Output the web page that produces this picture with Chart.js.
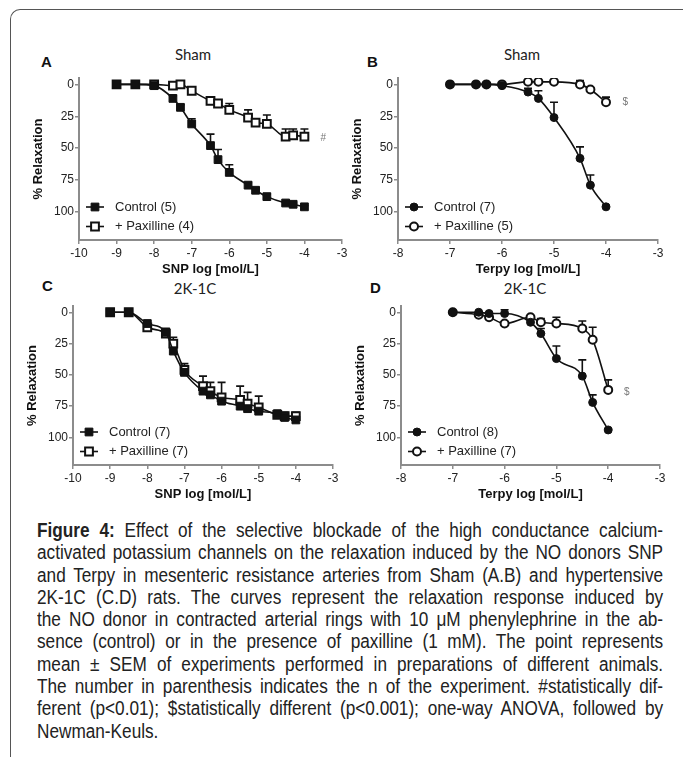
<!DOCTYPE html>
<html><head><meta charset="utf-8">
<script src="https://cdn.jsdelivr.net/npm/chart.js@4.4.1/dist/chart.umd.min.js"></script>
<style>
body{margin:0;width:683px;height:760px;background:#fff;position:relative;overflow:hidden;font-family:"Liberation Sans",Arial,sans-serif;}
.frame{position:absolute;left:10px;top:9px;width:700px;height:747px;border-top:1.5px solid #555;border-left:1.5px solid #555;border-top-left-radius:10px;}
canvas{position:absolute;}
.lbl{position:absolute;font-weight:bold;font-size:15px;color:#111;line-height:15px;}
.ttl{position:absolute;font-family:Lato,"Open Sans",sans-serif;font-size:15px;color:#222;transform:translateX(-50%);line-height:15px;white-space:nowrap;}
.cap{position:absolute;left:37px;width:626px;top:519px;font-family:"Liberation Sans",Arial,sans-serif;font-size:20px;color:#222;}
.cap div{width:728px;height:22.3px;line-height:22.3px;text-align:justify;text-align-last:justify;transform:scaleX(0.86);transform-origin:0 0;white-space:nowrap;}
.cap div.last{text-align-last:left;}
</style>
</head><body>
<div class="frame"></div>
<div class="lbl" style="left:41px;top:54px">A</div>
<div class="ttl" style="left:193px;top:47px">Sham</div>
<div class="lbl" style="left:367px;top:54px">B</div>
<div class="ttl" style="left:522px;top:47px">Sham</div>
<div class="lbl" style="left:42px;top:278px">C</div>
<div class="ttl" style="left:195px;top:281px">2K-1C</div>
<div class="lbl" style="left:370px;top:280px">D</div>
<div class="ttl" style="left:525px;top:281px">2K-1C</div>
<canvas id="cA"></canvas><canvas id="cB"></canvas><canvas id="cC"></canvas><canvas id="cD"></canvas>
<div class="cap">
<div><b>Figure 4:</b> Effect of the selective blockade of the high conductance calcium-</div>
<div>activated potassium channels on the relaxation induced by the NO donors SNP</div>
<div>and Terpy in mesenteric resistance arteries from Sham (A.B) and hypertensive</div>
<div>2K-1C (C.D) rats. The curves represent the relaxation response induced by</div>
<div>the NO donor in contracted arterial rings with 10 μM phenylephrine in the ab-</div>
<div>sence (control) or in the presence of paxilline (1 mM). The point represents</div>
<div>mean ± SEM of experiments performed in preparations of different animals.</div>
<div>The number in parenthesis indicates the n of the experiment. #statistically dif-</div>
<div>ferent (p&lt;0.01); $statistically different (p&lt;0.001); one-way ANOVA, followed by</div>
<div class="last">Newman-Keuls.</div>
</div>
<script>
// ---- data ----
const xSNP   = [-9,-8.5,-8,-7.5,-7.3,-7,-6.5,-6.3,-6,-5.5,-5.3,-5,-4.5,-4.3,-4];
const xTerpy = [-7,-6.5,-6.3,-6,-5.5,-5.3,-5,-4.5,-4.3,-4];
const xTicksSNP   = [-10,-9,-8,-7,-6,-5,-4,-3];
const xTicksTerpy = [-8,-7,-6,-5,-4,-3];
const yTicks = [0,25,50,75,100];

const ctrlA     = [0,0,1,11,18,31,48,59,69,79,83,88,93,94,96];
const ctrlA_sem = [0,0,0,2,2,4,9,8,6,2,2,2,1,1,1];
const paxA      = [0,0,0,1,0,5,13,15,20,26,30,31,41,40,41];
const paxA_sem  = [0,0,0,0,0,0,2,2,5,6,3,7,6,5,6];

const ctrlB     = [0,0,0,1,6,11,26,58,79,96];
const ctrlB_sem = [0,0,0,0,3,6,12,9,8,1];
const paxB      = [0,0,0,0,-2,-2,-2,0,4,14];
const paxB_sem  = [0,0,0,0,0,0,0,3,0,4];

const ctrlC     = [0,0,9,16,31,48,63,66,71,75,77,79,81,84,86];
const ctrlC_sem = [0,0,2,3,4,5,5,5,5,4,4,4,2,2,3];
const paxC      = [0,0,12,17,25,46,59,63,68,70,73,76,82,83,83];
const paxC_sem  = [0,0,3,4,5,5,8,7,12,11,9,9,3,3,3];

const ctrlD     = [0,0,1,1,8,17,37,51,72,94];
const ctrlD_sem = [0,0,0,3,3,4,10,13,6,1];
const paxD      = [0,2,4,9,4,8,9,13,22,62];
const paxD_sem  = [0,0,0,0,0,3,5,6,10,8];

const legA = ['Control (5)','+ Paxilline (4)'];
const legB = ['Control (7)','+ Paxilline (5)'];
const legC = ['Control (7)','+ Paxilline (7)'];
const legD = ['Control (8)','+ Paxilline (7)'];

// ---- plugins ----
const errorBars = {
  id:'errorBars',
  beforeDatasetsDraw(chart){
    const ctx=chart.ctx, xs=chart.scales.x, ys=chart.scales.y;
    ctx.save();
    ctx.strokeStyle='#111'; ctx.lineWidth=1.6;
    chart.data.datasets.forEach(ds=>{
      ds.data.forEach((p,i)=>{
        const s=ds.sem[i]; if(!s) return;
        const x=xs.getPixelForValue(p.x), y0=ys.getPixelForValue(p.y), y1=ys.getPixelForValue(p.y-s);
        ctx.beginPath(); ctx.moveTo(x,y0); ctx.lineTo(x,y1);
        ctx.moveTo(x-4,y1); ctx.lineTo(x+4,y1); ctx.stroke();
      });
    });
    ctx.restore();
  }
};
const innerLegend = {
  id:'innerLegend',
  afterDraw(chart){
    const ctx=chart.ctx, a=chart.chartArea;
    ctx.save();
    chart.data.datasets.forEach((ds,i)=>{
      const y=a.bottom-33+i*19.5, x=a.left+16;
      ctx.strokeStyle='#111'; ctx.lineWidth=1.6;
      ctx.beginPath(); ctx.moveTo(x-9,y); ctx.lineTo(x+9,y); ctx.stroke();
      ctx.fillStyle=ds.pointBackgroundColor; ctx.strokeStyle=ds.pointBorderColor; ctx.lineWidth=ds.pointBorderWidth;
      Chart.helpers.drawPoint(ctx,{pointStyle:ds.pointStyle,radius:ds.pointRadius,borderWidth:ds.pointBorderWidth},x,y);
      ctx.fillStyle='#222'; ctx.font='13px "Liberation Sans", Arial, sans-serif';
      ctx.textBaseline='middle'; ctx.textAlign='left';
      ctx.fillText(ds.label,a.left+36,y);
    });
    ctx.restore();
  }
};
const sigMark = {
  id:'sigMark',
  afterDraw(chart){
    const m=chart.options.plugins.sigMark; if(!m||!m.text) return;
    const ctx=chart.ctx;
    ctx.save(); ctx.fillStyle='#777'; ctx.font='10px "Liberation Sans", Arial, sans-serif';
    ctx.textAlign='center'; ctx.textBaseline='middle';
    ctx.fillText(m.text, chart.scales.x.getPixelForValue(m.x), chart.scales.y.getPixelForValue(m.y));
    ctx.restore();
  }
};

function makeDs(label, xs, ys, sem, style, filled, r){
  return {
    label, sem,
    data: xs.map((x,i)=>({x, y: ys[i]})),
    borderColor:'#111', borderWidth:1.6,
    pointStyle:style, pointRadius:r, pointHoverRadius:r,
    pointBackgroundColor: filled ? '#111' : '#fff',
    pointBorderColor:'#111', pointBorderWidth: filled ? 1 : 2,
    cubicInterpolationMode:'monotone', fill:false
  };
}

function panel(id, L, T, R, B, xTicks, xTitle, datasets, mark){
  const cv=document.getElementById(id);
  const cx=L-59, cy=T-48, w=R-L+69, h=B-T+93;
  cv.width=w; cv.height=h;
  cv.style.left=cx+'px'; cv.style.top=cy+'px';
  const axisGrid={display:true, drawOnChartArea:false, drawTicks:true, tickLength:4, color:'#8c8c8c', lineWidth:1.5};
  const axisBorder={display:true, color:'#8c8c8c', width:2};
  new Chart(cv,{
    type:'line',
    data:{datasets},
    options:{
      responsive:false, animation:false, events:[],
      layout:{padding:{top:48,left:0,right:10,bottom:5}},
      plugins:{legend:{display:false}, tooltip:{enabled:false}, sigMark:mark},
      scales:{
        x:{type:'linear', min:xTicks[0], max:xTicks[xTicks.length-1],
           afterBuildTicks:s=>{s.ticks=xTicks.map(v=>({value:v}));},
           afterFit:s=>{s.height=40;},
           grid:axisGrid, border:axisBorder,
           ticks:{color:'#222', font:{family:'"Liberation Sans", Arial, sans-serif', size:12}, padding:2, maxRotation:0, autoSkip:false},
           title:{display:true, text:xTitle, color:'#111', font:{family:'"Liberation Sans", Arial, sans-serif', size:13, weight:'bold'}, padding:{top:0,bottom:3}}},
        y:{type:'linear', reverse:true, min:-5, max:122,
           afterBuildTicks:s=>{s.ticks=yTicks.map(v=>({value:v}));},
           afterFit:s=>{s.width=59;},
           grid:axisGrid, border:axisBorder,
           ticks:{color:'#222', font:{family:'"Liberation Sans", Arial, sans-serif', size:12}, padding:1, autoSkip:false},
           title:{display:true, text:'% Relaxation', color:'#111', font:{family:'"Liberation Sans", Arial, sans-serif', size:13, weight:'bold'}, padding:{top:11,bottom:0}}}
      }
    },
    plugins:[errorBars, innerLegend, sigMark]
  });
}

panel('cA',79,78,342,240,xTicksSNP,'SNP log [mol/L]',[
  makeDs(legA[0],xSNP,ctrlA,ctrlA_sem,'rect',true,5.5),
  makeDs(legA[1],xSNP,paxA,paxA_sem,'rect',false,5.5)
],{text:'#',x:-3.5,y:42});
panel('cB',398,78,658,240,xTicksTerpy,'Terpy log [mol/L]',[
  makeDs(legB[0],xTerpy,ctrlB,ctrlB_sem,'circle',true,4),
  makeDs(legB[1],xTerpy,paxB,paxB_sem,'circle',false,4)
],{text:'$',x:-3.63,y:14});
panel('cC',73,306,333,465,xTicksSNP,'SNP log [mol/L]',[
  makeDs(legC[0],xSNP,ctrlC,ctrlC_sem,'rect',true,5.5),
  makeDs(legC[1],xSNP,paxC,paxC_sem,'rect',false,5.5)
],null);
panel('cD',401,306,660,465,xTicksTerpy,'Terpy log [mol/L]',[
  makeDs(legD[0],xTerpy,ctrlD,ctrlD_sem,'circle',true,4),
  makeDs(legD[1],xTerpy,paxD,paxD_sem,'circle',false,4)
],{text:'$',x:-3.64,y:64});
</script>
</body></html>
